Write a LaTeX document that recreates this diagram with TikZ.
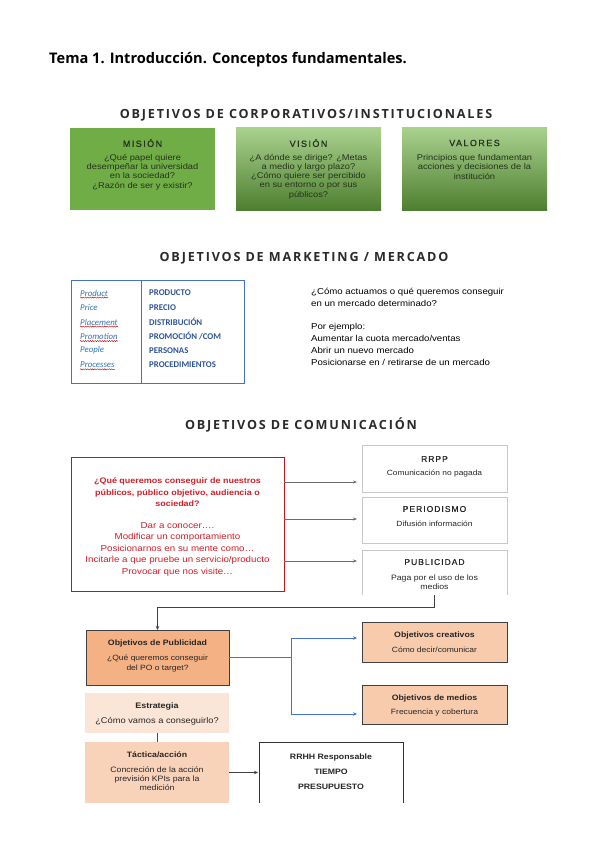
\documentclass[tikz,border=0pt]{standalone}
\usepackage{fontspec}
\setmainfont[FakeStretch=1.12]{Liberation Sans}
\newfontfamily\titlefont{Open Sans}
\newfontfamily\headfont[LetterSpace=14.5]{Open Sans}
\newfontfamily\caphead[LetterSpace=16,FakeBold=0.8]{Liberation Sans}
\newfontfamily\capheadw[LetterSpace=12,FakeBold=0.6]{Liberation Sans}
\newfontfamily\calfont{Carlito}
\usetikzlibrary{arrows.meta,decorations.pathmorphing}
\definecolor{misgreen}{HTML}{70AD47}
\definecolor{gtop}{HTML}{A9D18E}
\definecolor{gbot}{HTML}{4E7F30}
\definecolor{gtext}{HTML}{25331C}
\definecolor{redc}{HTML}{C0141E}
\definecolor{redt}{HTML}{D0202A}
\definecolor{tblue}{HTML}{4472C4}
\definecolor{lblue}{HTML}{2E75B6}
\definecolor{dblue}{HTML}{2F5597}
\definecolor{orA}{HTML}{F4B183}
\definecolor{orB}{HTML}{F8CBAD}
\definecolor{orC}{HTML}{FBE5D6}
\definecolor{orD}{HTML}{F9D2BA}
\definecolor{grayl}{HTML}{C8C8C8}
\definecolor{txt}{HTML}{262626}
\definecolor{head}{HTML}{2A2A2A}
\begin{document}
\begin{tikzpicture}[x=1pt,y=-1pt,
  box/.style={anchor=north west, inner sep=0pt, outer sep=0pt},
  hd/.style={inner sep=0pt, text=head, font=\headfont\bfseries\fontsize{12.6}{15}\selectfont},
  gh/.style={inner sep=0pt, text=gtext, font=\caphead\fontsize{9}{10}\selectfont},
  gb/.style={inner sep=0pt, align=center, text=gtext, font=\fontsize{8.3}{9.3}\selectfont},
  lw/.style={inner sep=0pt, anchor=west, text=lblue, font=\calfont\itshape\fontsize{8.8}{9}\selectfont},
  rw/.style={inner sep=0pt, anchor=west, text=dblue, font=\calfont\bfseries\fontsize{8.8}{9}\selectfont},
  wavy/.style={draw=red!80!black, line width=0.4pt, decorate, decoration={snake, amplitude=0.6pt, segment length=2.4pt}},
  wh/.style={inner sep=0pt, text=txt, font=\capheadw\fontsize{8.5}{10}\selectfont},
  wb/.style={inner sep=0pt, align=center, text=txt, font=\fontsize{7.5}{9.5}\selectfont},
  garrow/.style={draw=gray!85!black, line width=0.6pt, -{Stealth[length=4pt,width=3pt]}},
  darrow/.style={draw=black!75, line width=0.8pt, -{Stealth[length=4pt,width=3.5pt]}},
  barrow/.style={draw=tblue, line width=0.8pt, -{Stealth[length=4pt,width=3.5pt]}},
  ob/.style={inner sep=0pt, text=txt, font=\bfseries\fontsize{7.8}{9}\selectfont},
  os/.style={inner sep=0pt, align=center, text=txt, font=\fontsize{7.6}{10}\selectfont}
]
\useasboundingbox[fill=white] (0,0) rectangle (600,848);

% title
\node[anchor=base west, inner sep=0pt, font=\titlefont\bfseries\fontsize{14.6}{16}\selectfont] (title) at (49,64) {Tema 1. Introducción. Conceptos fundamentales.};

% ---- corporate objectives
\node[hd, anchor=base] (h1) at (306,119) {OBJETIVOS DE CORPORATIVOS/INSTITUCIONALES};

\node[box, fill=misgreen, minimum width=145, minimum height=82] (mision) at (70,128) {};
\node[box, top color=gtop, bottom color=gbot, minimum width=145, minimum height=82] (vision) at (236,128) {};
\node[box, top color=gtop, bottom color=gbot, minimum width=145, minimum height=82] (valores) at (402,128) {};

\node[gh] (misionH) at (mision.north |- 0,143) {MISIÓN};
\node[gb] (misionB) at (mision.north |- 0,172) {¿Qué papel quiere\\desempeñar la universidad\\en la sociedad?\\¿Razón de ser y existir?};
\node[gh] (visionH) at (vision.north |- 0,143) {VISIÓN};
\node[gb] (visionB) at (vision.north |- 0,176.5) {¿A dónde se dirige? ¿Metas\\a medio y largo plazo?\\¿Cómo quiere ser percibido\\en su entorno o por sus\\públicos?};
\node[gh] (valoresH) at (valores.north |- 0,143) {VALORES};
\node[gb] (valoresB) at (valores.north |- 0,167) {Principios que fundamentan\\acciones y decisiones de la\\institución};

% ---- marketing
\node[hd, anchor=base] (h2) at (304,261) {OBJETIVOS DE MARKETING / MERCADO};

\node[box, draw=tblue, line width=0.7pt, minimum width=173, minimum height=103] (tabla) at (71,280) {};
\coordinate (divT) at (141,280);
\coordinate (divB) at (141,383);
\draw[tblue, line width=0.7pt] (divT) -- (divB);

\node[lw] (p1) at (80,293) {Product};
\node[lw] (p2) at (80,307.5) {Price};
\node[lw] (p3) at (80,322) {Placement};
\node[lw] (p4) at (80,336.5) {Promotion};
\node[lw] (p5) at (80,350.5) {People};
\node[lw] (p6) at (80,365) {Processes};
\foreach \n in {p1,p3,p4,p6} {
  \draw[wavy] ([yshift=-1.3pt]\n.south west) -- ([yshift=-1.3pt]\n.south east);
}
\node[rw] (q1) at (149,293) {PRODUCTO};
\node[rw] (q2) at (149,307.5) {PRECIO};
\node[rw] (q3) at (149,322) {DISTRIBUCIÓN};
\node[rw] (q4) at (149,336.5) {PROMOCIÓN /COM};
\node[rw] (q5) at (149,350.5) {PERSONAS};
\node[rw] (q6) at (149,365) {PROCEDIMIENTOS};

\node[inner sep=0pt, anchor=north west, align=left, text=black, font=\fontsize{8.6}{11.8}\selectfont] (mkt) at (311,288) {¿Cómo actuamos o qué queremos conseguir\\en un mercado determinado?\\[11.8pt]Por ejemplo:\\Aumentar la cuota mercado/ventas\\Abrir un nuevo mercado\\Posicionarse en / retirarse de un mercado};

% ---- communication
\node[hd, anchor=base] (h3) at (301,429) {OBJETIVOS DE COMUNICACIÓN};

\node[box, draw=redc, line width=1pt, minimum width=213, minimum height=134] (red) at (71,457) {};
\node[inner sep=0pt, align=center, text=redt, font=\bfseries\fontsize{8}{11.5}\selectfont] (redA) at (red.north |- 0,492.5) {¿Qué queremos conseguir de nuestros\\públicos, público objetivo, audiencia o\\sociedad?};
\node[inner sep=0pt, align=center, text=redt, font=\fontsize{8.7}{11.5}\selectfont] (redB) at (red.north |- 0,549) {Dar a conocer….\\Modificar un comportamiento\\Posicionarnos en su mente como…\\Incitarle a que pruebe un servicio/producto\\Provocar que nos visite…};

\node[box, draw=grayl, line width=0.6pt, minimum width=145, minimum height=47] (rrpp) at (362,445) {};
\node[box, draw=grayl, line width=0.6pt, minimum width=145, minimum height=46] (perio) at (362,497) {};
\node[box, minimum width=145, minimum height=45] (pub) at (362,550) {};
\draw[grayl, line width=0.6pt] (pub.south west) -- (pub.north west) -- (pub.north east) -- (pub.south east);

\node[wh] (rrppH) at (rrpp.north |- 0,459) {RRPP};
\node[wb] (rrppB) at (rrpp.north |- 0,474) {Comunicación no pagada};
\node[wh] (perioH) at (perio.north |- 0,509) {PERIODISMO};
\node[wb] (perioB) at (perio.north |- 0,524) {Difusión información};
\node[wh] (pubH) at (pub.north |- 0,562) {PUBLICIDAD};
\node[wb, font=\fontsize{7.8}{9.5}\selectfont] (pubB) at (pub.north |- 0,582) {Paga por el uso de los\\medios};

\coordinate (ya) at (0,482);
\coordinate (yb) at (0,519);
\coordinate (yc) at (0,561);
\draw[garrow] (red.east |- ya) -- ([xshift=-5pt]rrpp.west |- ya);
\draw[garrow] (red.east |- yb) -- ([xshift=-5pt]perio.west |- yb);
\draw[garrow] (red.east |- yc) -- ([xshift=-5pt]pub.west |- yc);

% ---- advertising objectives
\node[box, fill=orA, draw=black!75, line width=0.7pt, minimum width=143, minimum height=55] (opub) at (86,630) {};
\node[ob] (opubH) at (opub.north |- 0,643) {Objetivos de Publicidad};
\node[os] (opubB) at (opub.north |- 0,663.5) {¿Qué queremos conseguir\\del PO o target?};

\draw[darrow] (pub.south) -- ++(0,12) -| (opub.north);

\node[box, fill=orB, draw=black!75, line width=0.7pt, minimum width=145, minimum height=40] (ocre) at (362,622) {};
\node[ob] (ocreH) at (ocre.north |- 0,635) {Objetivos creativos};
\node[os] (ocreB) at (ocre.north |- 0,650) {Cómo decir/comunicar};
\node[box, fill=orB, draw=black!75, line width=0.7pt, minimum width=145, minimum height=39] (omed) at (362,685) {};
\node[ob] (omedH) at (omed.north |- 0,698) {Objetivos de medios};
\node[os] (omedB) at (omed.north |- 0,713) {Frecuencia y cobertura};

\coordinate (branch) at (291,657.5);
\coordinate (yd) at (0,638);
\coordinate (ye) at (0,714);
\draw[tblue, line width=0.8pt] (opub.east) -- (branch);
\draw[barrow] (branch) |- ([xshift=-5pt]ocre.west |- yd);
\draw[barrow] (branch) |- ([xshift=-5pt]omed.west |- ye);

\node[box, fill=orC, minimum width=144, minimum height=40] (estr) at (85,693) {};
\node[ob, font=\bfseries\fontsize{8}{9}\selectfont] (estrH) at (estr.north |- 0,706) {Estrategia};
\node[os, font=\fontsize{8.3}{10}\selectfont] (estrB) at (estr.north |- 0,721) {¿Cómo vamos a conseguirlo?};

\node[box, fill=orD, minimum width=144, minimum height=61] (tact) at (85,742) {};
\node[ob] (tactH) at (tact.north |- 0,755) {Táctica/acción};
\node[os, font=\fontsize{7.8}{9}\selectfont] (tactB) at (tact.north |- 0,779) {Concreción de la acción\\previsión KPIs para la\\medición};
\draw[black!70, line width=0.7pt] (estr.south) -- (tact.north);

\node[box, minimum width=144, minimum height=61] (fin) at (259,742) {};
\draw[black!80, line width=0.7pt] (fin.south west) -- (fin.north west) -- (fin.north east) -- (fin.south east);
\node[ob, font=\bfseries\fontsize{7.8}{15}\selectfont, align=center] (finT) at (fin.north |- 0,772) {RRHH Responsable\\TIEMPO\\PRESUPUESTO};
\draw[darrow] (tact.east) -- ([xshift=-1pt]fin.west);
\end{tikzpicture}
\end{document}
